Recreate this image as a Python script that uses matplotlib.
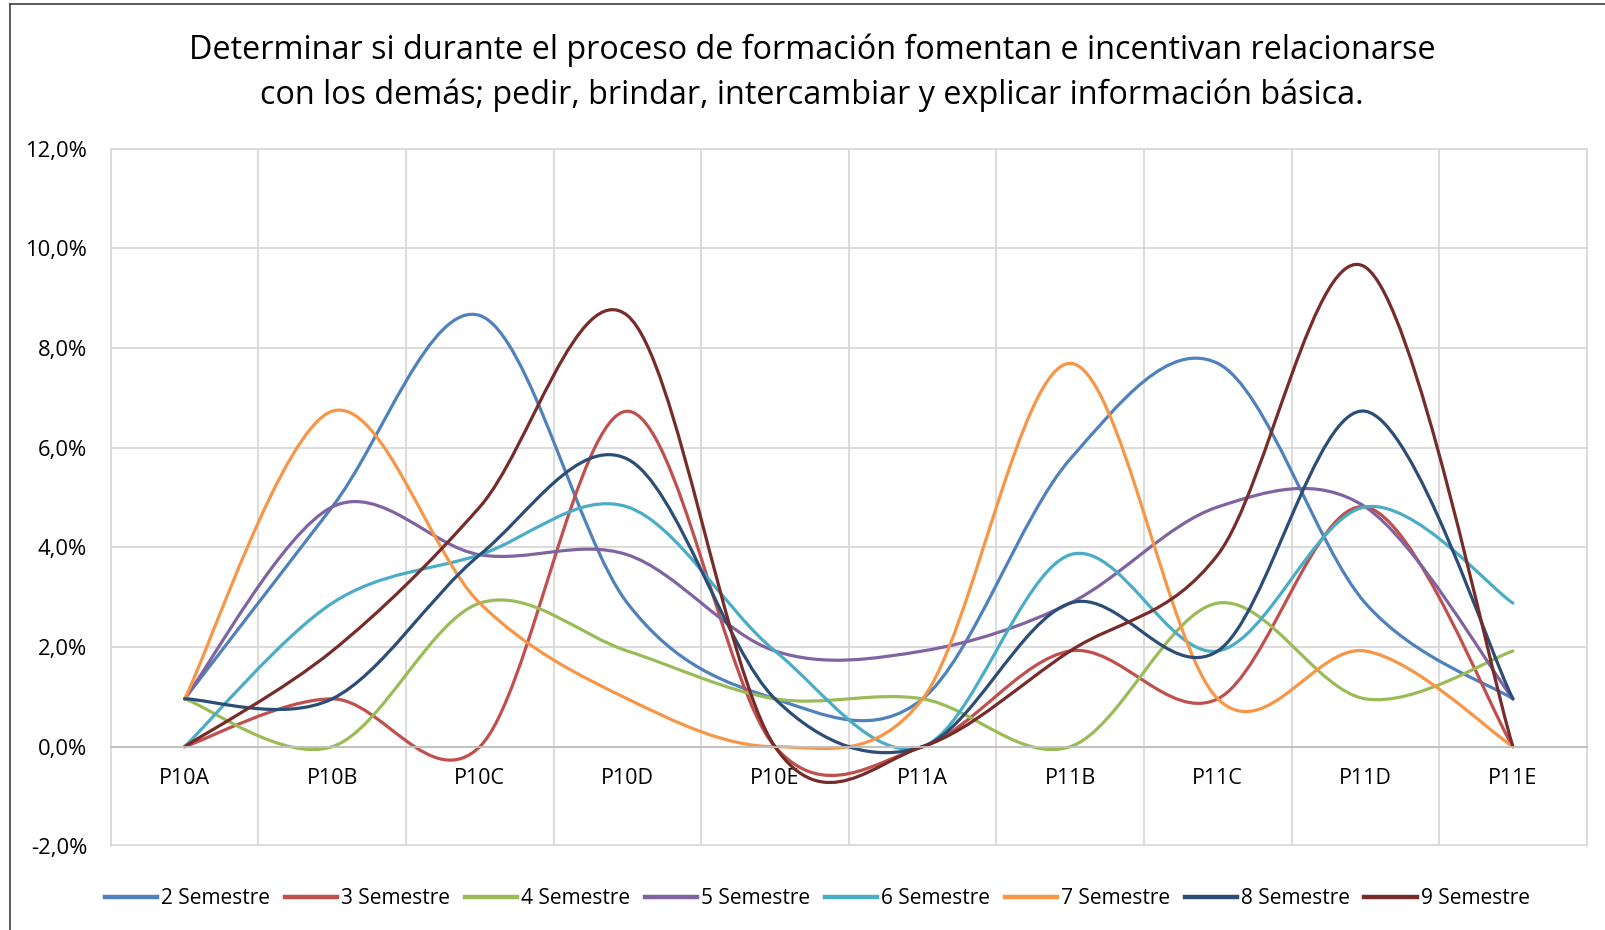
import numpy as np
import matplotlib
matplotlib.use("Agg")
import matplotlib.pyplot as plt
from matplotlib.path import Path
from matplotlib.patches import PathPatch
from matplotlib.lines import Line2D
from matplotlib.ticker import FuncFormatter, MultipleLocator

plt.rcParams['font.family'] = ['Open Sans', 'DejaVu Sans']

# datos (% de respuestas)
preguntas = ["P10A", "P10B", "P10C", "P10D", "P10E", "P11A", "P11B", "P11C", "P11D", "P11E"]
sem2 = [0.96, 4.81, 8.65, 2.88, 0.96, 0.96, 5.77, 7.69, 2.88, 0.96]
sem3 = [0.00, 0.96, 0.00, 6.73, 0.00, 0.00, 1.92, 0.96, 4.81, 0.00]
sem4 = [0.96, 0.00, 2.88, 1.92, 0.96, 0.96, 0.00, 2.88, 0.96, 1.92]
sem5 = [0.96, 4.81, 3.85, 3.85, 1.92, 1.92, 2.88, 4.81, 4.81, 0.96]
sem6 = [0.00, 2.88, 3.85, 4.81, 1.92, 0.00, 3.85, 1.92, 4.81, 2.88]
sem7 = [0.96, 6.73, 2.88, 0.96, 0.00, 0.96, 7.69, 0.96, 1.92, 0.00]
sem8 = [0.96, 0.96, 3.85, 5.77, 0.96, 0.00, 2.88, 1.92, 6.73, 0.96]
sem9 = [0.00, 1.92, 4.81, 8.65, 0.00, 0.00, 1.92, 3.85, 9.62, 0.00]

series = [sem2, sem3, sem4, sem5, sem6, sem7, sem8, sem9]
nombres = ["2 Semestre", "3 Semestre", "4 Semestre", "5 Semestre",
           "6 Semestre", "7 Semestre", "8 Semestre", "9 Semestre"]
colores = ["#4F81BD", "#C0504D", "#9BBB59", "#8064A2",
           "#4BACC6", "#F79646", "#2C4D75", "#772C2A"]


def curva_suave(x, y):
    # bezier tipo Excel (catmull-rom)
    p = np.column_stack([x, y]).astype(float)
    n = len(p)
    verts = [p[0]]
    codes = [Path.MOVETO]
    for i in range(n - 1):
        p0 = p[i - 1] if i > 0 else p[i]
        p1 = p[i]
        p2 = p[i + 1]
        p3 = p[i + 2] if i + 2 < n else p[i + 1]
        verts += [p1 + (p2 - p0) / 6.0, p2 - (p3 - p1) / 6.0, p2]
        codes += [Path.CURVE4] * 3
    return Path(verts, codes)


fig = plt.figure(figsize=(16.06, 9.30), dpi=100)
ax = fig.add_axes([0.069, 0.0899, 0.919, 0.7504])

x = np.arange(len(preguntas))
for vals, col in zip(series, colores):
    ax.add_patch(PathPatch(curva_suave(x, vals), facecolor="none",
                           edgecolor=col, lw=2.3, capstyle="round",
                           joinstyle="round"))

ax.set_xlim(-0.5, len(preguntas) - 0.5)
ax.set_ylim(-2, 12)
ax.yaxis.set_major_locator(MultipleLocator(2))
ax.yaxis.set_major_formatter(FuncFormatter(lambda v, p: ("%.1f%%" % v).replace(".", ",")))
ax.set_xticks(x)
ax.set_xticklabels(preguntas)
ax.set_xticks(np.arange(0.5, len(preguntas) - 1, 1.0), minor=True)

gris = "#D9D9D9"
ax.grid(True, axis="y", which="major", color=gris, lw=1.3)
ax.grid(True, axis="x", which="minor", color=gris, lw=1.3)
ax.set_axisbelow(True)
for s in ax.spines.values():
    s.set_color(gris)
    s.set_linewidth(1.3)
ax.spines["bottom"].set_position(("data", 0))
ax.spines["bottom"].set_color("#BFBFBF")
ax.axhline(-2, color=gris, lw=2.6, zorder=0)

ax.tick_params(axis="both", which="both", length=0, labelcolor="black")
ax.tick_params(axis="y", pad=17, labelsize=15.8)
ax.tick_params(axis="x", pad=15, labelsize=15.5)

fig.text(0.5055, 0.946, "Determinar si durante el proceso de formación fomentan e incentivan relacionarse",
         ha="center", va="center", fontsize=23.3)
fig.text(0.5055, 0.898, "con los demás; pedir, brindar, intercambiar y explicar información básica.",
         ha="center", va="center", fontsize=23.3)

handles = [Line2D([], [], color=c, lw=3.2) for c in colores]
fig.legend(handles, nombres, loc="center", bbox_to_anchor=(0.509, 0.0335), ncol=8,
           frameon=False, fontsize=15, handlelength=2.5, handletextpad=0.2,
           columnspacing=0.7)

# borde del gráfico (izquierda y arriba)
fig.add_artist(Line2D([10 / 1606, 10 / 1606], [0, 1 - 4 / 930], color="#404040", lw=1.2))
fig.add_artist(Line2D([10 / 1606, 1], [1 - 4 / 930, 1 - 4 / 930], color="#404040", lw=1.2))

fig.savefig("out.png", dpi=100)
